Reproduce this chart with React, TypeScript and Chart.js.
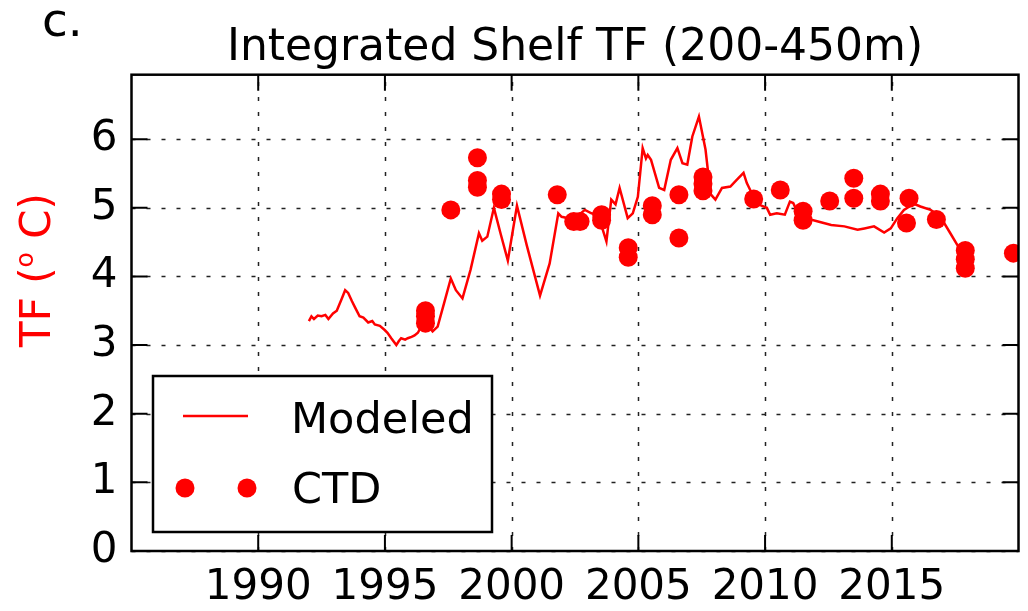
import React, { useEffect, useRef } from "react";
import { Chart, registerables } from "chart.js";

Chart.register(...registerables);

// ---------- data ----------
const modelYears = [
  1992.0, 1992.1, 1992.2, 1992.35, 1992.5, 1992.65, 1992.77, 1992.95, 1993.1, 1993.3,
  1993.43, 1993.55, 1993.7, 1993.82, 1994.0, 1994.15, 1994.34, 1994.5, 1994.6, 1994.8,
  1994.99, 1995.1, 1995.25, 1995.45, 1995.55, 1995.64, 1995.8, 1995.9, 1996.05, 1996.17,
  1996.3, 1996.43, 1996.6, 1996.75, 1996.88, 1997.08, 1997.34, 1997.6, 1997.8, 1998.06,
  1998.38, 1998.71, 1998.84, 1999.04, 1999.3, 1999.56, 1999.85, 2000.21, 2000.6, 2001.12,
  2001.5, 2001.84, 2001.97, 2002.24, 2002.56, 2002.89, 2003.15, 2003.41, 2003.74, 2003.93,
  2004.1, 2004.26, 2004.58, 2004.78, 2004.98, 2005.17, 2005.3, 2005.37, 2005.5, 2005.82,
  2006.02, 2006.28, 2006.54, 2006.74, 2006.93, 2007.13, 2007.39, 2007.65, 2007.85, 2008.04,
  2008.3, 2008.63, 2008.89, 2009.15, 2009.28, 2009.48, 2009.8, 2010.07, 2010.2, 2010.46,
  2010.78, 2010.98, 2011.11, 2011.3, 2011.6, 2012.09, 2012.61, 2013.13, 2013.65, 2013.92,
  2014.3, 2014.7, 2014.96, 2015.22, 2015.48, 2015.87, 2016.13, 2016.53, 2016.92, 2017.31,
  2017.6, 2017.9,
];
const modelValues = [
  3.35, 3.42, 3.38, 3.43, 3.42, 3.44, 3.38, 3.46, 3.5, 3.68,
  3.8, 3.76, 3.64, 3.55, 3.42, 3.4, 3.33, 3.35, 3.3, 3.28,
  3.22, 3.18, 3.1, 3.0, 3.06, 3.1, 3.08, 3.1, 3.12, 3.14,
  3.18, 3.27, 3.3, 3.26, 3.2, 3.27, 3.62, 3.97, 3.8, 3.68,
  4.1, 4.63, 4.52, 4.58, 5.0, 4.63, 4.23, 5.03, 4.45, 3.72,
  4.19, 4.92, 4.87, 4.85, 4.87, 4.97, 4.92, 4.9, 4.51, 5.12,
  5.05, 5.29, 4.85, 4.92, 5.16, 5.87, 5.72, 5.77, 5.7, 5.29,
  5.26, 5.7, 5.87, 5.65, 5.63, 6.04, 6.33, 5.85, 5.2, 5.12,
  5.29, 5.31, 5.41, 5.51, 5.36, 5.21, 5.04, 5.0, 4.9, 4.92,
  4.9, 5.09, 5.07, 4.92, 4.85, 4.8, 4.75, 4.73, 4.68, 4.7,
  4.73, 4.64, 4.7, 4.85, 4.97, 5.06, 5.02, 4.97, 4.87, 4.63,
  4.45, 4.29,
];
const ctdYears = [
  1996.6, 1996.6, 1996.6, 1997.6, 1998.65, 1998.65, 1998.65, 1999.6, 1999.6, 2001.8,
  2002.45, 2002.7, 2003.55, 2003.55, 2004.6, 2004.6, 2005.55, 2005.55, 2006.6, 2006.6,
  2007.55, 2007.55, 2007.55, 2009.55, 2010.6, 2011.5, 2011.5, 2012.55, 2013.5, 2013.5,
  2014.55, 2014.55, 2015.68, 2015.58, 2016.76, 2017.9, 2017.9, 2017.9, 2019.8,
];
const ctdValues = [
  3.5, 3.42, 3.32, 4.97, 5.73, 5.4, 5.3, 5.2, 5.12, 5.19,
  4.8, 4.8, 4.9, 4.82, 4.42, 4.28, 5.03, 4.9, 5.19, 4.56,
  5.45, 5.35, 5.25, 5.13, 5.26, 4.95, 4.82, 5.1, 5.43, 5.14,
  5.2, 5.1, 5.14, 4.78, 4.83, 4.38, 4.25, 4.12, 4.34,
];
const xTicks = [1990, 1995, 2000, 2005, 2010, 2015];
const yTicks = [0, 1, 2, 3, 4, 5, 6];
const xMin = 1985;
const xMax = 2020;
const yMin = 0;
const yMax = 6.94;
const titleText = "Integrated Shelf TF (200-450m)";
const panelLabel = "c.";
const yLabelParts = ["TF (", "o", " C)"];
const legendLabels = ["Modeled", "CTD"];

const FONT = '"DejaVu Sans", "Liberation Sans", sans-serif';
const RED = "#ff0000";
const FS = 42;

const decorPlugin = {
  id: "decor",
  beforeDatasetsDraw(chart: any) {
    const { ctx, chartArea: a, scales } = chart;
    const x = scales.x;
    const y = scales.y;
    ctx.save();
    ctx.strokeStyle = "#222";
    ctx.lineWidth = 1.5;
    ctx.setLineDash([4, 11]);
    for (const t of xTicks) {
      const px = Math.round(x.getPixelForValue(t)) + 0.5;
      ctx.beginPath();
      ctx.moveTo(px, a.bottom);
      ctx.lineTo(px, a.top);
      ctx.stroke();
    }
    for (const t of yTicks) {
      const py = Math.round(y.getPixelForValue(t)) + 0.5;
      ctx.beginPath();
      ctx.moveTo(a.left, py);
      ctx.lineTo(a.right, py);
      ctx.stroke();
    }
    ctx.restore();
  },
  afterDraw(chart: any) {
    const { ctx, chartArea: a, scales } = chart;
    const x = scales.x;
    const y = scales.y;
    ctx.save();
    // spines
    ctx.strokeStyle = "#000";
    ctx.lineWidth = 2.5;
    ctx.setLineDash([]);
    ctx.strokeRect(a.left, a.top, a.right - a.left, a.bottom - a.top);
    // inward ticks on all sides
    const TL = 16;
    ctx.lineWidth = 2;
    for (const t of xTicks) {
      const px = x.getPixelForValue(t);
      ctx.beginPath();
      ctx.moveTo(px, a.bottom);
      ctx.lineTo(px, a.bottom - TL);
      ctx.moveTo(px, a.top);
      ctx.lineTo(px, a.top + TL);
      ctx.stroke();
    }
    for (const t of yTicks) {
      const py = y.getPixelForValue(t);
      ctx.beginPath();
      ctx.moveTo(a.left, py);
      ctx.lineTo(a.left + TL, py);
      ctx.moveTo(a.right, py);
      ctx.lineTo(a.right - TL, py);
      ctx.stroke();
    }
    // title
    ctx.fillStyle = "#000";
    ctx.font = `44px ${FONT}`;
    ctx.textAlign = "center";
    ctx.textBaseline = "alphabetic";
    ctx.fillText(titleText, (a.left + a.right) / 2, 60);
    // panel label
    ctx.textAlign = "left";
    ctx.font = `47px ${FONT}`;
    ctx.fillText(panelLabel, 42, 36);
    // y label (rotated, red, with superscript o)
    ctx.save();
    ctx.translate(50, 270);
    ctx.rotate(-Math.PI / 2);
    ctx.fillStyle = RED;
    const big = `${FS}px ${FONT}`;
    const small = `${Math.round(FS * 0.6)}px ${FONT}`;
    ctx.font = big;
    const w0 = ctx.measureText(yLabelParts[0]).width;
    const w2 = ctx.measureText(yLabelParts[2]).width;
    ctx.font = small;
    const w1 = ctx.measureText(yLabelParts[1]).width;
    const total = w0 + w1 + w2;
    let cx = -total / 2;
    ctx.textAlign = "left";
    ctx.font = big;
    ctx.fillText(yLabelParts[0], cx, 0);
    cx += w0;
    ctx.font = small;
    ctx.fillText(yLabelParts[1], cx, -FS * 0.4);
    cx += w1;
    ctx.font = big;
    ctx.fillText(yLabelParts[2], cx, 0);
    ctx.restore();
    // legend
    const lx = 153, ly = 376, lw = 339, lh = 156;
    ctx.fillStyle = "#fff";
    ctx.fillRect(lx, ly, lw, lh);
    ctx.strokeStyle = "#000";
    ctx.lineWidth = 2.5;
    ctx.strokeRect(lx, ly, lw, lh);
    ctx.strokeStyle = RED;
    ctx.lineWidth = 2.5;
    ctx.beginPath();
    ctx.moveTo(183, 416);
    ctx.lineTo(248, 416);
    ctx.stroke();
    ctx.fillStyle = RED;
    for (const cxp of [185, 247]) {
      ctx.beginPath();
      ctx.arc(cxp, 488, 9.5, 0, Math.PI * 2);
      ctx.fill();
    }
    ctx.fillStyle = "#000";
    ctx.font = `43px ${FONT}`;
    ctx.textAlign = "left";
    ctx.fillText(legendLabels[0], 291, 433);
    ctx.fillText(legendLabels[1], 292, 503);
    ctx.restore();
  },
};

export default function App() {
  const ref = useRef<HTMLCanvasElement | null>(null);
  useEffect(() => {
    if (!ref.current) return;
    const modelData = modelYears.map((yr, i) => ({ x: yr, y: modelValues[i] }));
    const ctdData = ctdYears.map((yr, i) => ({ x: yr, y: ctdValues[i] }));
    const tickFont = { family: FONT, size: FS };
    const chart = new Chart(ref.current, {
      type: "scatter",
      data: {
        datasets: [
          {
            label: legendLabels[1],
            data: ctdData,
            showLine: false,
            pointRadius: 9.5,
            pointBackgroundColor: RED,
            pointBorderColor: RED,
            pointBorderWidth: 0,
          },
          {
            label: legendLabels[0],
            data: modelData,
            showLine: true,
            borderColor: RED,
            borderWidth: 2.5,
            pointRadius: 0,
            tension: 0,
          },
        ],
      },
      options: {
        animation: false,
        responsive: false,
        devicePixelRatio: 1,
        events: [],
        layout: { padding: { top: 74.7, right: 2.5, left: 0, bottom: 0 } },
        plugins: {
          legend: { display: false },
          title: { display: false },
          tooltip: { enabled: false },
        },
        scales: {
          x: {
            type: "linear",
            min: xMin,
            max: xMax,
            afterBuildTicks: (s: any) => {
              s.ticks = xTicks.map((v) => ({ value: v }));
            },
            afterFit: (s: any) => {
              s.height = 60;
            },
            grid: { display: false, drawTicks: false },
            border: { display: false },
            ticks: {
              font: tickFont,
              color: "#000",
              padding: 12,
              maxRotation: 0,
              autoSkip: false,
              callback: (v: any) => String(v),
            },
          },
          y: {
            type: "linear",
            min: yMin,
            max: yMax,
            afterBuildTicks: (s: any) => {
              s.ticks = yTicks.map((v) => ({ value: v }));
            },
            afterFit: (s: any) => {
              s.width = 131.5;
            },
            grid: { display: false, drawTicks: false },
            border: { display: false },
            ticks: {
              font: tickFont,
              color: "#000",
              padding: 14,
              autoSkip: false,
              callback: (v: any) => String(v),
            },
          },
        },
      },
      plugins: [decorPlugin],
    });
    return () => chart.destroy();
  }, []);
  return (
    <div style={{ position: "fixed", left: 0, top: 0, width: 1028, height: 611, background: "#fff" }}>
      <canvas ref={ref} width={1028} height={611} style={{ display: "block", width: 1028, height: 611 }} />
    </div>
  );
}
